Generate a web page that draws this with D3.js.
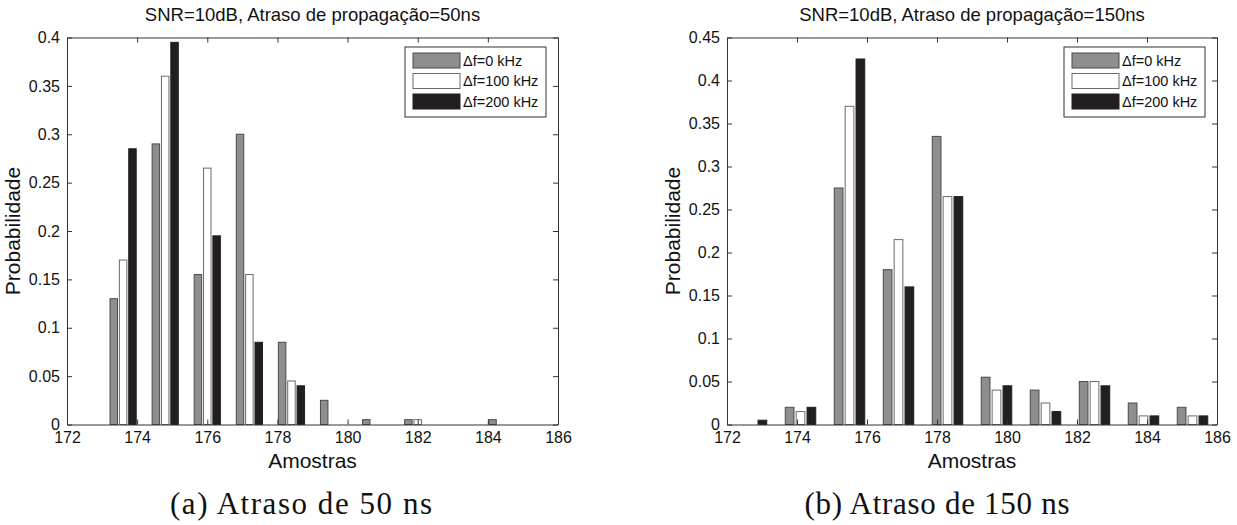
<!DOCTYPE html>
<html>
<head>
<meta charset="utf-8">
<script src="https://cdn.jsdelivr.net/npm/d3@7"></script>
<style>
  html, body { margin: 0; padding: 0; background: #fff; }
  svg { display: block; }
  .tick text { font-family: "Liberation Sans", Arial, sans-serif; font-size: 16px; fill: #111; }
</style>
</head>
<body>
<svg id="chart" width="1237" height="525"></svg>
<script>
// Histogram bin centres (Amostras) and probabilities per frequency offset
const seriesNames = ["\u0394f=0 kHz", "\u0394f=100 kHz", "\u0394f=200 kHz"];

// Panel (a): propagation delay 50 ns
const binsA = [173.6, 174.8, 176.0, 177.2, 178.4, 179.6, 180.8, 182.0, 183.2, 184.4];
const probA0 = [0.13, 0.29, 0.155, 0.30, 0.085, 0.025, 0.005, 0.005, 0, 0.005];
const probA100 = [0.17, 0.36, 0.265, 0.155, 0.045, 0, 0, 0.005, 0, 0];
const probA200 = [0.285, 0.395, 0.195, 0.085, 0.04, 0, 0, 0, 0, 0];
const yTicksA = [0, 0.05, 0.1, 0.15, 0.2, 0.25, 0.3, 0.35, 0.4];

// Panel (b): propagation delay 150 ns
const binsB = [172.7, 174.1, 175.5, 176.9, 178.3, 179.7, 181.1, 182.5, 183.9, 185.3];
const probB0 = [0, 0.02, 0.275, 0.18, 0.335, 0.055, 0.04, 0.05, 0.025, 0.02];
const probB100 = [0, 0.015, 0.37, 0.215, 0.265, 0.04, 0.025, 0.05, 0.01, 0.01];
const probB200 = [0.005, 0.02, 0.425, 0.16, 0.265, 0.045, 0.015, 0.045, 0.01, 0.01];
const yTicksB = [0, 0.05, 0.1, 0.15, 0.2, 0.25, 0.3, 0.35, 0.4, 0.45];

const xTicks = [172, 174, 176, 178, 180, 182, 184, 186];

const fills = ["#8e8e90", "#ffffff", "#231f20"];
const strokes = ["#4a4a4a", "#6a6a6a", "#231f20"];
const sans = "'Liberation Sans', Arial, Helvetica, sans-serif";
const serif = "'Liberation Serif', 'Times New Roman', serif";

const svg = d3.select("#chart");

function fmt(d) { return d === 0 ? "0" : String(+d.toFixed(2)); }

function drawPanel(opts) {
  const { left, right, top, bottom, bins, series, yMax, yTicks, title, caption, captionX, captionW } = opts;
  const x = d3.scaleLinear().domain([172, 186]).range([left, right]);
  const y = d3.scaleLinear().domain([0, yMax]).range([bottom, top]);
  const g = svg.append("g");

  // grouped bars (MATLAB-style: group takes 2/3 of the bin, bars 80% of their slot)
  const binW = bins[1] - bins[0];
  const slot = binW * (2 / 3) / series.length;
  const barW = slot * 0.8;
  series.forEach((vals, si) => {
    const off = (si - (series.length - 1) / 2) * slot;
    g.append("g").selectAll("rect")
      .data(bins.map((b, i) => ({ b, v: vals[i] })).filter(d => d.v > 0))
      .join("rect")
      .attr("x", d => x(d.b + off - barW / 2))
      .attr("width", d => x(d.b + off + barW / 2) - x(d.b + off - barW / 2))
      .attr("y", d => y(d.v))
      .attr("height", d => y(0) - y(d.v))
      .attr("fill", fills[si])
      .attr("stroke", strokes[si])
      .attr("stroke-width", 1);
  });

  // axes with inward ticks on all four sides
  const axStyle = sel => {
    sel.selectAll("path.domain").attr("stroke", "#333");
    sel.selectAll(".tick line").attr("stroke", "#333");
  };
  g.append("g").attr("transform", `translate(0,${bottom})`)
    .call(d3.axisBottom(x).tickValues(xTicks).tickSize(-5).tickSizeOuter(0).tickPadding(7).tickFormat(d3.format("d")))
    .call(axStyle);
  g.append("g").attr("transform", `translate(0,${top})`)
    .call(d3.axisTop(x).tickValues(xTicks).tickSize(-5).tickSizeOuter(0).tickFormat(""))
    .call(axStyle);
  g.append("g").attr("transform", `translate(${left},0)`)
    .call(d3.axisLeft(y).tickValues(yTicks).tickSize(-5).tickSizeOuter(0).tickPadding(7).tickFormat(fmt))
    .call(axStyle);
  g.append("g").attr("transform", `translate(${right},0)`)
    .call(d3.axisRight(y).tickValues(yTicks).tickSize(-5).tickSizeOuter(0).tickFormat(""))
    .call(axStyle);
  g.selectAll(".tick text").attr("font-family", null).attr("font-size", null);

  // title and axis labels
  const cx = (left + right) / 2;
  g.append("text").attr("x", cx).attr("y", 21).attr("text-anchor", "middle")
    .attr("font-family", sans).attr("font-size", 18.5).attr("fill", "#111").text(title);
  g.append("text").attr("x", cx).attr("y", 468).attr("text-anchor", "middle")
    .attr("font-family", sans).attr("font-size", 21).attr("fill", "#111").text("Amostras");
  g.append("text").attr("transform", `translate(${left - 47},${(top + bottom) / 2}) rotate(-90)`)
    .attr("text-anchor", "middle").attr("font-family", sans).attr("font-size", 21)
    .attr("fill", "#111").text("Probabilidade");

  // legend
  const lx = right - 153, ly = top + 9.5, lw = 141, lh = 70;
  const lg = g.append("g");
  lg.append("rect").attr("x", lx).attr("y", ly).attr("width", lw).attr("height", lh)
    .attr("fill", "#fff").attr("stroke", "#333").attr("stroke-width", 1);
  seriesNames.forEach((name, i) => {
    const ry = ly + 6 + i * 20.5;
    lg.append("rect").attr("x", lx + 8).attr("y", ry).attr("width", 47).attr("height", 15)
      .attr("fill", fills[i]).attr("stroke", strokes[i]).attr("stroke-width", 1);
    lg.append("text").attr("x", lx + 58).attr("y", ry + 12.5)
      .attr("font-family", sans).attr("font-size", 14.5).attr("fill", "#111").text(name);
  });

  // sub-figure caption
  svg.append("text").attr("x", captionX).attr("y", 514).attr("text-anchor", "middle")
    .attr("font-family", serif).attr("font-size", 31).attr("fill", "#111")
    .attr("textLength", captionW).attr("lengthAdjust", "spacing").text(caption);
}

drawPanel({
  left: 67, right: 558, top: 37.5, bottom: 424.5,
  bins: binsA, series: [probA0, probA100, probA200], yMax: 0.4, yTicks: yTicksA,
  title: "SNR=10dB, Atraso de propaga\u00e7\u00e3o=50ns",
  caption: "(a) Atraso de 50 ns", captionX: 301, captionW: 262
});
drawPanel({
  left: 727, right: 1217, top: 37.5, bottom: 424.5,
  bins: binsB, series: [probB0, probB100, probB200], yMax: 0.45, yTicks: yTicksB,
  title: "SNR=10dB, Atraso de propaga\u00e7\u00e3o=150ns",
  caption: "(b) Atraso de 150 ns", captionX: 937, captionW: 265
});
</script>
</body>
</html>
